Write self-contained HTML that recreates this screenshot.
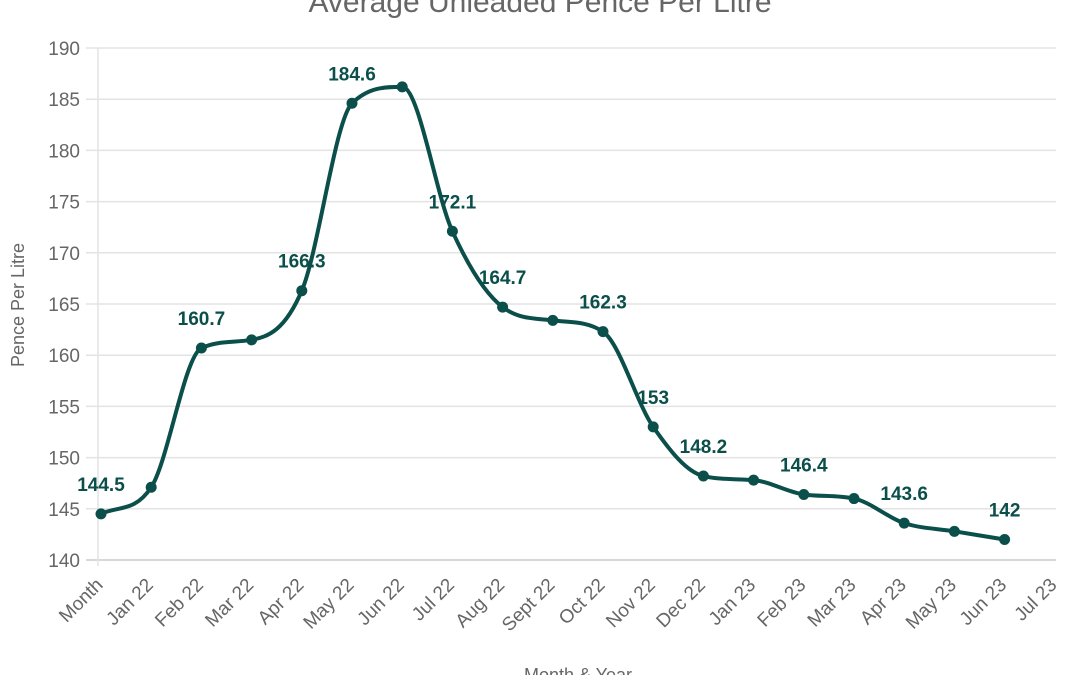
<!DOCTYPE html>
<html><head><meta charset="utf-8"><style>
body{margin:0;background:#fff;width:1080px;height:675px;overflow:hidden;font-family:"Liberation Sans",Arial,sans-serif}
</style></head><body>
<svg id="chart" width="1080" height="675" xmlns="http://www.w3.org/2000/svg">
<text x="540" y="12" text-anchor="middle" font-size="30" fill="#666">Average Unleaded Pence Per Litre</text>
<text transform="translate(24,305) rotate(-90)" text-anchor="middle" font-size="18" fill="#666">Pence Per Litre</text>
<text x="578" y="681" text-anchor="middle" font-size="18" fill="#666">Month &amp; Year</text>
<g id="grid"></g><g id="xlabels"></g><g id="series"></g>
</svg>
<script>
const categories=["Month","Jan 22","Feb 22","Mar 22","Apr 22","May 22","Jun 22","Jul 22","Aug 22","Sept 22","Oct 22","Nov 22","Dec 22","Jan 23","Feb 23","Mar 23","Apr 23","May 23","Jun 23","Jul 23"];
const values=[144.5,147.1,160.7,161.5,166.3,184.6,186.2,172.1,164.7,163.4,162.3,153,148.2,147.8,146.4,146.0,143.6,142.8,142];
const labelShown=[1,0,1,0,1,1,0,1,1,0,1,1,1,0,1,0,1,0,1];
const yTicks=[140,145,150,155,160,165,170,175,180,185,190];
const NS="http://www.w3.org/2000/svg";
const X0=101,DX=50.2,Y0=560,YS=10.24;
const x=i=>X0+i*DX, y=v=>Y0-(v-140)*YS;
function mk(t,a,p){const e=document.createElementNS(NS,t);for(const k in a)e.setAttribute(k,a[k]);p.appendChild(e);return e;}
const g=document.getElementById('grid');
yTicks.forEach(t=>{
 const l=mk('line',{x1:86,x2:1056,y1:y(t),y2:y(t),stroke:t===140?'#ccc':'#e3e3e3','stroke-width':1.5},g);
 
 
 const tx=mk('text',{x:80,y:y(t)+7,'text-anchor':'end','font-size':19,fill:'#666'},g);tx.textContent=t;
 
 
});
const ax=mk('line',{x1:98,x2:98,y1:48,y2:566,stroke:'#e3e3e3','stroke-width':1.5},g);


const xl=document.getElementById('xlabels');
categories.forEach((c,i)=>{
 const t=mk('text',{transform:`translate(${x(i)+3},${586}) rotate(-45)`,'text-anchor':'end','font-size':19,fill:'#666'},xl);t.textContent=c;
 
 
});
const s=document.getElementById('series');
const P=values.map((v,i)=>[x(i),y(v)]);
// monotone cubic interpolation
const n=P.length,dk=[],m=[];
for(let i=0;i<n-1;i++)dk.push((P[i+1][1]-P[i][1])/(P[i+1][0]-P[i][0]));
m[0]=dk[0];m[n-1]=dk[n-2];
for(let i=1;i<n-1;i++){m[i]=(dk[i-1]*dk[i]<=0)?0:(dk[i-1]+dk[i])/2;}
for(let i=0;i<n-1;i++){if(dk[i]===0){m[i]=0;m[i+1]=0;continue;}const a=m[i]/dk[i],b=m[i+1]/dk[i],h=a*a+b*b;if(h>9){const t=3/Math.sqrt(h);m[i]=t*a*dk[i];m[i+1]=t*b*dk[i];}}
let d=`M${P[0][0]},${P[0][1]}`;
for(let i=0;i<n-1;i++){const h=(P[i+1][0]-P[i][0])/3;
 d+=` C${P[i][0]+h},${P[i][1]+m[i]*h} ${P[i+1][0]-h},${P[i+1][1]-m[i+1]*h} ${P[i+1][0]},${P[i+1][1]}`;}
const path=mk('path',{d:d,fill:'none',stroke:'#0b4f4a','stroke-width':4},s);


values.forEach((v,i)=>{
 const c=mk('circle',{cx:x(i),cy:y(v),r:5.5,fill:'#0b4f4a'},s);
 
 
 if(labelShown[i]){
  const t=mk('text',{x:x(i),y:y(v)-23,'text-anchor':'middle','font-size':19,'font-weight':'bold',fill:'#0b4f4a'},s);t.textContent=v;
  
  
 }
});
</script>
</body></html>
